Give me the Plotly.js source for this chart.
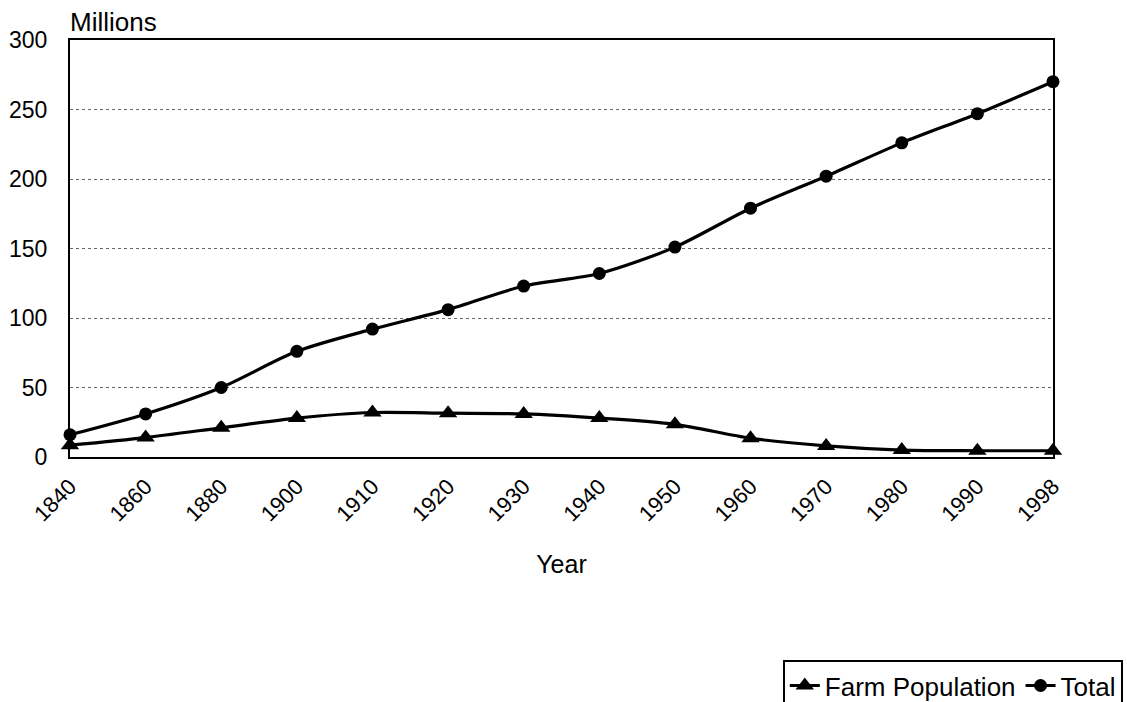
<!DOCTYPE html>
<html>
<head>
<meta charset="utf-8">
<script src="https://cdn.plot.ly/plotly-3.0.1.min.js"></script>
<style>html,body{margin:0;padding:0;background:#fff;overflow:hidden;}#chart{width:1127px;height:702px;}</style>
</head>
<body>
<div id="chart"></div>
<script>
const years = ["1840","1860","1880","1900","1910","1920","1930","1940","1950","1960","1970","1980","1990","1998"];
const farmPopulation = [8.5, 14, 21, 28, 32, 31.5, 31, 28, 23.5, 13.5, 8, 5, 4.5, 4.5];
const totalPopulation = [16, 31, 50, 76, 92, 106, 123, 132, 151, 179, 202, 226, 247, 270];

const font = {family: "Liberation Sans, Arial, sans-serif", color: "#000"};

const traces = [
  {x: years, y: farmPopulation, name: "Farm Population", type: "scatter", mode: "lines+markers",
   line: {color: "#000", width: 3.2, shape: "spline", smoothing: 0.8},
   marker: {symbol: "triangle-up", size: 16, color: "#000"}, cliponaxis: false},
  {x: years, y: totalPopulation, name: "Total", type: "scatter", mode: "lines+markers",
   line: {color: "#000", width: 3.2, shape: "spline", smoothing: 0.8},
   marker: {symbol: "circle", size: 13, color: "#000"}, cliponaxis: false}
];

const layout = {
  width: 1127, height: 702,
  margin: {l: 70, r: 74, t: 40, b: 245, autoexpand: false},
  paper_bgcolor: "#fff", plot_bgcolor: "#fff",
  font: Object.assign({size: 20}, font),
  showlegend: true,
  legend: {orientation: "h", x: 1.071, xanchor: "right", y: -0.487, yanchor: "top",
    bordercolor: "#000", borderwidth: 2, font: Object.assign({size: 26}, font),
    itemwidth: 30, tracegroupgap: 0},
  xaxis: {type: "category", range: [0, 13], tickangle: -45, showgrid: false,
    showline: true, linecolor: "#000", linewidth: 2, mirror: true, ticks: "",
    tickfont: Object.assign({size: 22}, font), ticklabelstandoff: 6,
    title: {text: "Year", font: Object.assign({size: 25}, font), standoff: 30}},
  yaxis: {range: [0, 300], dtick: 50, showgrid: true, gridcolor: "#666", griddash: "dot", gridwidth: 1,
    zeroline: false, showline: true, linecolor: "#000", linewidth: 2, mirror: true, ticks: "",
    tickfont: Object.assign({size: 23}, font), ticklabelstandoff: 16},
  annotations: [{text: "Millions", xref: "paper", yref: "paper", x: -0.002, y: 1.003,
    xanchor: "left", yanchor: "bottom", showarrow: false, font: Object.assign({size: 26}, font)}]
};

Plotly.newPlot("chart", traces, layout, {displayModeBar: false, staticPlot: true});
</script>
</body>
</html>
